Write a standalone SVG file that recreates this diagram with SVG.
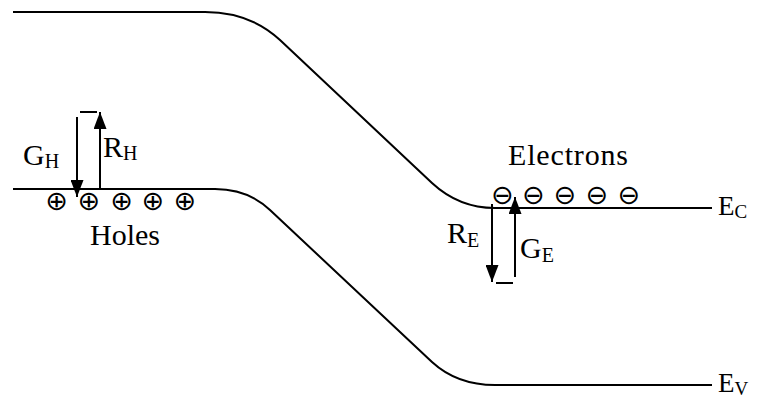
<svg xmlns="http://www.w3.org/2000/svg" width="758" height="402" viewBox="0 0 758 402">
<style>
.band{fill:none;stroke:#000;stroke-width:2}
.arr{fill:none;stroke:#000;stroke-width:2}
.bar{fill:none;stroke:#000;stroke-width:2}
.lbl{font-family:'Liberation Serif','Times New Roman',serif;font-size:30px;fill:#000}
.sub{font-size:20px}
.elbl{font-family:'Liberation Serif','Times New Roman',serif;font-size:27px;fill:#000}
.esub{font-size:19px}
.sym{font-family:'DejaVu Sans',sans-serif;font-size:27px;fill:#000;text-anchor:middle}
</style>
<defs>
<marker id="head" markerUnits="userSpaceOnUse" markerWidth="17" markerHeight="13" viewBox="0 0 17 13" refX="17" refY="6.5" orient="auto">
<path d="M0,0 L17,6.5 L0,13 Z" fill="#000"/>
</marker>
</defs>
<g id="connectors">
<path id="conduction-band" class="band" d="M13,12 L205,12 Q250,12 280,40 L432,183 Q459,208 495,208 L712,208"/>
<path id="valence-band" class="band" d="M13,189 L215,189 Q248,189 270,210 L432,362 Q457,385 495,385 L712,385"/>
<line id="arrow-GH" class="arr" x1="77" y1="117" x2="77" y2="197" marker-end="url(#head)"/>
<line id="arrow-RH" class="arr" x1="100" y1="190" x2="100" y2="112" marker-end="url(#head)"/>
<line id="arrow-RE" class="arr" x1="492" y1="204" x2="492" y2="282" marker-end="url(#head)"/>
<line id="arrow-GE" class="arr" x1="515" y1="277" x2="515" y2="197" marker-end="url(#head)"/>
<line id="bar-H" class="bar" x1="80" y1="112" x2="97" y2="112"/>
<line id="bar-E" class="bar" x1="496" y1="283" x2="513" y2="283"/>
</g>
<g id="holes">
<text class="sym" x="56.7 89 121.7 153 185" y="210">⊕⊕⊕⊕⊕</text>
<text class="lbl" x="90" y="245">Holes</text>
</g>
<g id="electrons">
<text class="sym" x="502.5 533.5 565 597 629" y="204">⊖⊖⊖⊖⊖</text>
<text class="lbl" x="508" y="165" textLength="120" lengthAdjust="spacing">Electrons</text>
</g>
<g id="label-GH"><text class="lbl" x="23" y="165">G<tspan class="sub" dy="3">H</tspan></text></g>
<g id="label-RH"><text class="lbl" x="103" y="157">R<tspan class="sub" dy="3">H</tspan></text></g>
<g id="label-RE"><text class="lbl" x="447" y="243">R<tspan class="sub" dy="4">E</tspan></text></g>
<g id="label-GE"><text class="lbl" x="520" y="258">G<tspan class="sub" dy="4">E</tspan></text></g>
<g id="label-EC"><text class="elbl" x="718" y="215">E<tspan class="esub" dy="3">C</tspan></text></g>
<g id="label-EV"><text class="elbl" x="718" y="392">E<tspan class="esub" dy="3">V</tspan></text></g>
</svg>
